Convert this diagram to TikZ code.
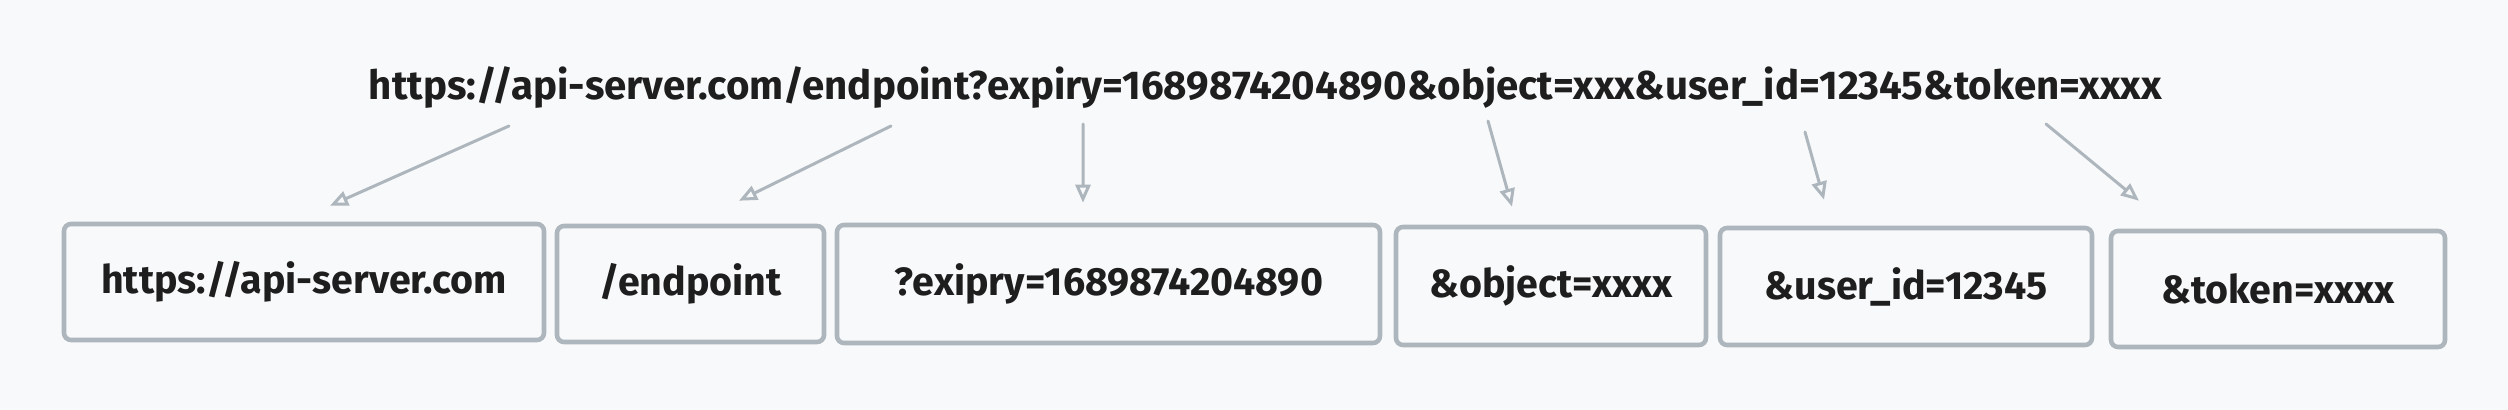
\documentclass[tikz,border=0pt]{standalone}
\usepackage{fontspec}
\setmainfont{Fira Sans}
\usepackage{tikz}
\usetikzlibrary{arrows.meta}
\usepackage{xcolor}
\definecolor{bgpaper}{HTML}{F8F9FA}
\definecolor{edgegray}{HTML}{ADB5BD}
\definecolor{inkdark}{HTML}{1E1E1E}

\begin{document}
\begin{tikzpicture}[>={Triangle[open,length=1.8mm,width=1.5mm]},font=\bfseries\fontsize{11.2}{13}\selectfont,line cap=round,
  seg/.style={draw=edgegray,line width=1.3pt,rounded corners=2pt,text=inkdark,inner sep=0pt},
  arr/.style={->,draw=edgegray,line width=0.85pt}]
\fill[bgpaper] (0,0) rectangle (25.08,4.10);
\useasboundingbox (0,0) rectangle (25.08,4.10);
% full url on top
\node[anchor=base,text=inkdark,inner sep=0pt,font=\bfseries\fontsize{11.45}{13}\selectfont] (url) at (12.655,3.10) {https://api-server.com/endpoint?expiry=1689874204890\&object=xxx\&user\_id=12345\&token=xxxx};
% its parts
\node[seg,minimum width=4.80cm,minimum height=1.16cm] (host) at (3.04,1.28) {https://api-server.com};
\node[seg,minimum width=2.67cm,minimum height=1.16cm] (path) at (6.905,1.26) {/endpoint};
\node[seg,minimum width=5.43cm,minimum height=1.18cm] (expiry) at (11.085,1.26) {?exipry=1689874204890};
\node[seg,minimum width=3.10cm,minimum height=1.18cm] (object) at (15.51,1.24) {\&object=xxxx};
\node[seg,minimum width=3.72cm,minimum height=1.17cm] (userid) at (19.06,1.235) {\&user\_id=12345};
\node[seg,minimum width=3.34cm,minimum height=1.16cm] (token) at (22.78,1.21) {\&token=xxxx};
% arrows from the url
\coordinate (s1) at (5.09,2.84);
\coordinate (s2) at (8.91,2.84);
\coordinate (s3) at (10.83,2.86);
\coordinate (s4) at (14.88,2.89);
\coordinate (s5) at (18.05,2.78);
\coordinate (s6) at (20.46,2.86);
\draw[arr] (s1) -- ([xshift=0.26cm,yshift=0.16cm]host.north);
\draw[arr] (s2) -- ([xshift=0.485cm,yshift=0.23cm]path.north);
\draw[arr] (s3) -- ([xshift=-0.255cm,yshift=0.20cm]expiry.north);
\draw[arr] (s4) -- ([xshift=-0.39cm,yshift=0.18cm]object.north);
\draw[arr] (s5) -- ([xshift=-0.82cm,yshift=0.26cm]userid.north);
\draw[arr] (s6) -- ([xshift=-1.39cm,yshift=0.28cm]token.north);
\end{tikzpicture}
\end{document}
